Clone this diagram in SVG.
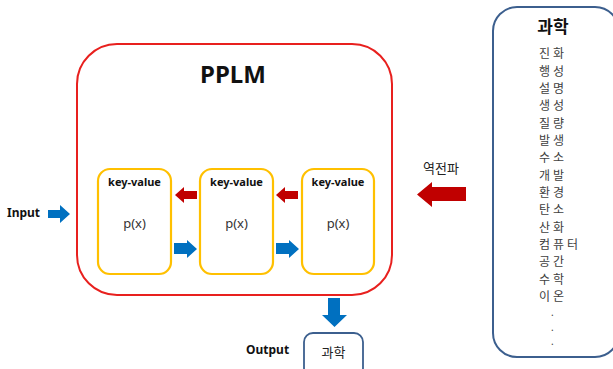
<svg xmlns="http://www.w3.org/2000/svg" width="613" height="369" viewBox="0 0 613 369">
  <style>
    text { font-family: "Noto Sans", "Noto Sans CJK KR", sans-serif; }
    .kv { font-size: 11px; font-weight: bold; fill: #111; text-anchor: middle; }
    .px { font-size: 13px; fill: #333; text-anchor: middle; }
    .lbl { font-size: 12px; font-weight: bold; fill: #111; }
    .item { font-family: "Noto Sans CJK KR", sans-serif; font-size: 12px; fill: #404040; letter-spacing: 3px; }
    .dot { font-family: "Noto Sans", sans-serif; font-size: 10px; fill: #404040; }
    .cell { fill: #fff; stroke: #FFC000; stroke-width: 2.2; }
    .blue { fill: #0070C0; }
    .red { fill: #C00000; }
  </style>
  <rect width="613" height="369" fill="#fff"/>

  <g id="pplm">
    <rect x="77" y="44" width="315" height="251" rx="40" fill="#fff" stroke="#E8201E" stroke-width="2"/>
    <text x="233" y="83" font-size="24" font-weight="bold" fill="#111" text-anchor="middle">PPLM</text>
  </g>

  <g id="kv1">
    <rect class="cell" x="98" y="169" width="73" height="105" rx="12"/>
    <text class="kv" x="134.5" y="186">key-value</text>
    <text class="px" x="134.5" y="228">p(x)</text>
  </g>
  <g id="kv2">
    <rect class="cell" x="200" y="169" width="73" height="105" rx="12"/>
    <text class="kv" x="236.5" y="186">key-value</text>
    <text class="px" x="236.5" y="228">p(x)</text>
  </g>
  <g id="kv3">
    <rect class="cell" x="302" y="169" width="72" height="105" rx="12"/>
    <text class="kv" x="338" y="186">key-value</text>
    <text class="px" x="338" y="228">p(x)</text>
  </g>

  <g id="input">
    <text class="lbl" x="7" y="217">Input</text>
  </g>

  <g id="vocab">
    <rect x="493" y="7" width="126" height="350" rx="24" fill="#fff" stroke="#3C5F8E" stroke-width="2"/>
    <text x="553" y="33" font-family="Noto Sans CJK KR, sans-serif" font-size="17" font-weight="bold" fill="#111" text-anchor="middle">과학</text>
    <text class="item" x="539" y="58">진화</text>
    <text class="item" x="539" y="75.5">행성</text>
    <text class="item" x="539" y="93">설명</text>
    <text class="item" x="539" y="110">생성</text>
    <text class="item" x="539" y="127.5">질량</text>
    <text class="item" x="539" y="145">발생</text>
    <text class="item" x="539" y="162">수소</text>
    <text class="item" x="539" y="179.5">개발</text>
    <text class="item" x="539" y="197">환경</text>
    <text class="item" x="539" y="214">탄소</text>
    <text class="item" x="539" y="231.5">산화</text>
    <text class="item" x="539" y="249">컴퓨터</text>
    <text class="item" x="539" y="266">공간</text>
    <text class="item" x="539" y="283.5">수학</text>
    <text class="item" x="539" y="301">이온</text>
    <text class="dot" x="551" y="316">.</text>
    <text class="dot" x="551" y="331">.</text>
    <text class="dot" x="551" y="345">.</text>
  </g>

  <g id="backprop-label">
    <text x="441" y="173" font-family="Noto Sans CJK KR, sans-serif" font-size="13" fill="#222" text-anchor="middle">역전파</text>
  </g>

  <g id="output">
    <text class="lbl" x="246" y="354">Output</text>
    <rect x="304" y="333" width="59" height="44" rx="9" fill="#fff" stroke="#3C5F8E" stroke-width="1.8"/>
    <text x="333.5" y="357" font-family="Noto Sans CJK KR, sans-serif" font-size="13" fill="#222" text-anchor="middle">과학</text>
  </g>

  <g id="connectors">
    <!-- input into the model -->
    <polygon class="blue" points="48,210 60,210 60,205 70,214 60,223 60,218 48,218"/>
    <!-- forward pass between cells -->
    <polygon class="blue" points="174,243 187,243 187,240 197,249 187,258 187,254 174,254"/>
    <polygon class="blue" points="276,243 289,243 289,240 299,249 289,258 289,254 276,254"/>
    <!-- gradient flow between cells -->
    <polygon class="red" points="197,191 184,191 184,187 175,195 184,203 184,199 197,199"/>
    <polygon class="red" points="298,191 285,191 285,187 276,195 285,203 285,199 298,199"/>
    <!-- backpropagation from the vocabulary -->
    <polygon class="red" points="466,187 432,187 432,182 417,194.5 432,207 432,201 466,201"/>
    <!-- model output -->
    <polygon class="blue" points="328,298 340,298 340,315 347,315 334.5,327 322,315 328,315"/>
  </g>
</svg>
